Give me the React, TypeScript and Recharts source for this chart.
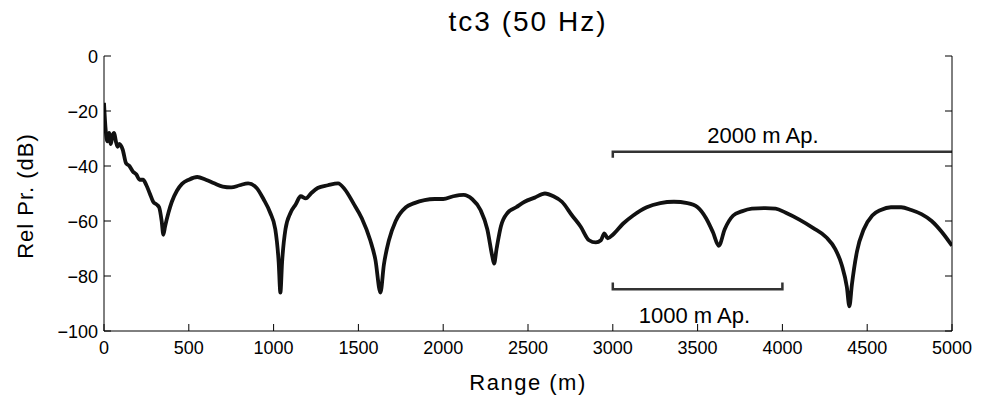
import { LineChart, Line, XAxis, YAxis, ReferenceDot } from "recharts";

const FONT = '"Liberation Sans", Arial, Helvetica, sans-serif';

// range (m) and relative pressure (dB)
const rangeM = [
  0, 10, 20, 30, 40, 50, 60, 70, 80, 90, 110, 130, 150, 170, 190, 210, 230, 250, 270, 290,
  310, 325, 340, 350, 360, 380, 400, 430, 460, 500, 550, 600, 650, 700, 750, 800, 850, 900,
  940, 980, 1010, 1030, 1040, 1050, 1070, 1100, 1130, 1160, 1190, 1220, 1260, 1320, 1380,
  1420, 1470, 1520, 1570, 1600, 1630, 1650, 1680, 1720, 1780, 1830, 1890, 1950, 2000, 2060,
  2120, 2170, 2220, 2260, 2290, 2300, 2315, 2340, 2380, 2430, 2480, 2540, 2600, 2650, 2700,
  2760, 2810, 2860, 2900, 2930, 2950, 2970, 3000, 3060, 3120, 3200, 3280, 3360, 3440, 3500,
  3550, 3590, 3625, 3660, 3710, 3760, 3820, 3900, 3960, 4020, 4100, 4180, 4260, 4310, 4350,
  4380, 4395, 4410, 4440, 4480, 4530, 4580, 4640, 4700, 4760, 4820, 4880, 4940, 5000,
];
const relPr = [
  -17, -27, -31, -28, -32, -29, -28, -31, -33, -32, -34, -39, -40, -42, -43, -45, -45, -47, -50, -53,
  -54, -55, -60, -65, -62, -57, -53, -49, -46.5, -45, -44, -45, -46.3, -47.5, -47.8, -47, -46.3, -48,
  -52, -57, -63, -75, -86, -75, -63, -57, -54, -51, -51.8, -50, -48, -47, -46.3,
  -48.5, -53.5, -59, -67, -74, -86, -76, -67, -60, -55, -53.5, -52.4, -52, -52, -51,
  -50.5, -52, -56, -63, -73, -75.5, -70, -62, -57, -55, -53, -51.5, -50, -51, -53,
  -58, -62, -67, -67.8, -67, -64.5, -66.3, -65, -61, -58, -55, -53.5, -53, -53.5, -55,
  -59, -64, -69, -63, -58, -56.5, -55.5, -55.3, -55.5, -57, -59.5, -62.5, -66, -70, -76,
  -84, -91, -83, -71, -63, -58, -56, -55, -55, -56, -57.5, -60, -64, -69,
];

// aperture brackets
const ap2000Range = [3000, 3000, 5000];
const ap2000Level = [-37, -34.8, -34.8];
const ap1000Range = [3000, 3000, 4000, 4000];
const ap1000Level = [-82.4, -84.8, -84.8, -82.4];

const xTicks = [0, 500, 1000, 1500, 2000, 2500, 3000, 3500, 4000, 4500, 5000];
const yTicks = [0, -20, -40, -60, -80, -100];

const data = rangeM.map((r, i) => ({ r, p: relPr[i] }));
const bracket2000 = ap2000Range.map((r, i) => ({ r, b: ap2000Level[i] }));
const bracket1000 = ap1000Range.map((r, i) => ({ r, b: ap1000Level[i] }));

const fmtY = (v: number) => (v < 0 ? "\u2212" + Math.abs(v) : String(v));

function BottomTick(props: any) {
  const { x, y, payload } = props;
  return (
    <g>
      <line x1={x} y1={y} x2={x} y2={y - 7} stroke="#000" />
      <text x={x} y={y + 23} textAnchor="middle" fontSize={18} fontFamily={FONT} fill="#000">
        {payload.value}
      </text>
    </g>
  );
}

function TopTick(props: any) {
  const { x, y } = props;
  return <line x1={x} y1={y} x2={x} y2={y + 7} stroke="#000" />;
}

function LeftTick(props: any) {
  const { x, y, payload } = props;
  return (
    <g>
      <line x1={x} y1={y} x2={x + 7} y2={y} stroke="#000" />
      <text x={x - 6} y={y + 6.5} textAnchor="end" fontSize={18} fontFamily={FONT} fill="#000">
        {fmtY(payload.value)}
      </text>
    </g>
  );
}

function RightTick(props: any) {
  const { x, y } = props;
  return <line x1={x} y1={y} x2={x - 7} y2={y} stroke="#000" />;
}

export default function App() {
  return (
    <div style={{ position: "relative", width: 965, height: 390, fontFamily: FONT, color: "#000" }}>
      <div
        style={{
          position: "absolute", left: 96, top: 0, width: 848, textAlign: "center",
          fontSize: 28, lineHeight: "28px", letterSpacing: 2,
        }}
      >
        tc3 (50 Hz)
      </div>
      <div
        style={{
          position: "absolute", left: 96, top: 364, width: 848, textAlign: "center",
          fontSize: 22, lineHeight: "22px", letterSpacing: 1.5,
        }}
      >
        Range (m)
      </div>
      <div
        style={{
          position: "absolute", left: -82, top: 177, width: 200, height: 22, textAlign: "center",
          fontSize: 22, lineHeight: "22px", letterSpacing: 1, transform: "rotate(-90deg)",
        }}
      >
        Rel Pr. (dB)
      </div>
      <LineChart width={965} height={390} data={data} margin={{ top: 48, right: 0, bottom: 0, left: 0 }}>
        <XAxis
          dataKey="r" type="number" domain={[0, 5000]} ticks={xTicks} interval={0}
          height={67} tickSize={0} tickMargin={0} tickLine={false} tick={<BottomTick />}
          axisLine={{ stroke: "#000" }} allowDataOverflow
        />
        <XAxis
          xAxisId="top" orientation="top" dataKey="r" type="number" domain={[0, 5000]}
          ticks={xTicks} interval={0} height={0} tickSize={0} tickMargin={0} tickLine={false}
          tick={<TopTick />} axisLine={{ stroke: "#000" }} allowDataOverflow
        />
        <YAxis
          type="number" domain={[-100, 0]} ticks={yTicks} interval={0} width={96}
          tickSize={0} tickMargin={0} tickLine={false} tick={<LeftTick />}
          axisLine={{ stroke: "#000" }} allowDataOverflow
        />
        <YAxis
          yAxisId="right" orientation="right" type="number" domain={[-100, 0]} ticks={yTicks}
          interval={0} width={21} tickSize={0} tickMargin={0} tickLine={false}
          tick={<RightTick />} axisLine={{ stroke: "#000" }} allowDataOverflow
        />
        <Line
          dataKey="p" type="monotone" stroke="#111" strokeWidth={3.8} dot={false}
          strokeLinejoin="round" isAnimationActive={false}
        />
        <Line
          data={bracket2000} dataKey="b" type="linear" stroke="#333" strokeWidth={2.5}
          dot={false} isAnimationActive={false}
        />
        <Line
          data={bracket1000} dataKey="b" type="linear" stroke="#333" strokeWidth={2.5}
          dot={false} isAnimationActive={false}
        />
        <ReferenceDot
          x={3885} y={-28.7} r={1} fill="none" stroke="none"
          label={{ value: "2000 m Ap.", position: "center", fontSize: 22, fill: "#000", fontFamily: FONT }}
        />
        <ReferenceDot
          x={3481} y={-94.2} r={1} fill="none" stroke="none"
          label={{ value: "1000 m Ap.", position: "center", fontSize: 22, fill: "#000", fontFamily: FONT }}
        />
      </LineChart>
    </div>
  );
}
